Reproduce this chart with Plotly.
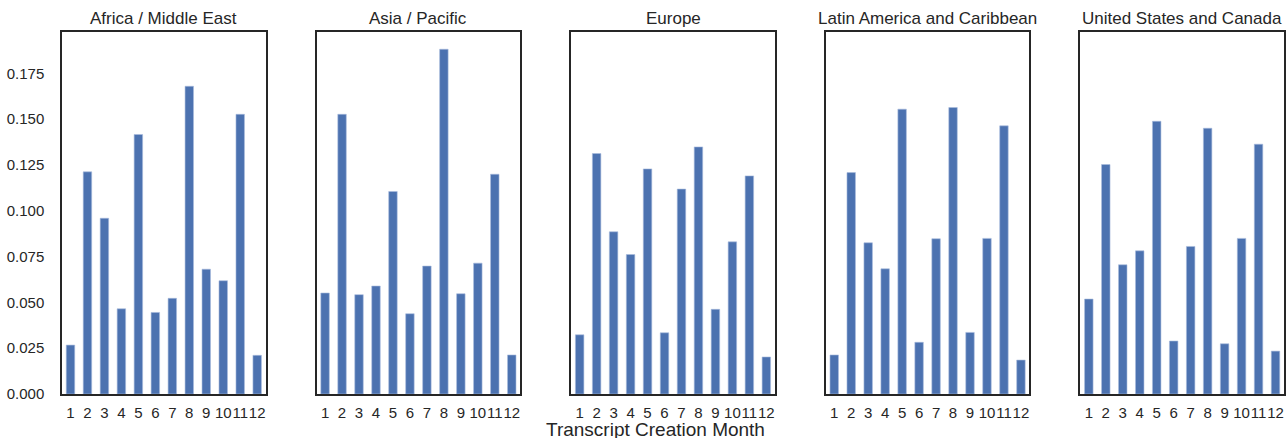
import plotly.graph_objects as go

months = [str(m) for m in range(1, 13)]
regions = ["Africa / Middle East", "Asia / Pacific", "Europe",
           "Latin America and Caribbean", "United States and Canada"]

africa_middle_east = [0.0267, 0.1212, 0.0959, 0.0465, 0.1416, 0.0445,
                      0.0522, 0.1679, 0.0681, 0.0618, 0.1526, 0.0211]
asia_pacific = [0.0551, 0.1526, 0.0542, 0.0589, 0.1105, 0.0438,
                0.0698, 0.1881, 0.0547, 0.0714, 0.1199, 0.0213]
europe = [0.0323, 0.1312, 0.0885, 0.0761, 0.1228, 0.0334,
          0.1118, 0.1348, 0.0462, 0.0830, 0.1190, 0.0202]
latin_america = [0.0213, 0.1208, 0.0825, 0.0683, 0.1554, 0.0282,
                 0.0847, 0.1563, 0.0336, 0.0849, 0.1463, 0.0185]
us_canada = [0.0518, 0.1252, 0.0705, 0.0781, 0.1488, 0.0289,
             0.0805, 0.1450, 0.0274, 0.0849, 0.1363, 0.0234]

series = [africa_middle_east, asia_pacific, europe, latin_america, us_canada]

y_ticks = [0.0, 0.025, 0.05, 0.075, 0.1, 0.125, 0.15, 0.175]
x_label = "Transcript Creation Month"

BLUE = "#4C72B0"
DARK = "#262626"
FONT = "Liberation Sans, Arial, sans-serif"

W, H = 1286, 438
ML, MR, MT, MB = 62, 0, 32, 44
plot_w = W - ML - MR
plot_h = H - MT - MB
panel_w = 204
step = 255

ymax = max(max(s) for s in series) * 1.05

fig = go.Figure()
layout = {}
annotations = []
for i, (name, vals) in enumerate(zip(regions, series)):
    n = "" if i == 0 else str(i + 1)
    fig.add_trace(go.Bar(
        x=months, y=vals, width=0.5,
        marker=dict(color=BLUE, line=dict(width=0.6, color="#A9BCDD")),
        xaxis="x" + n, yaxis="y" + n, showlegend=False,
    ))
    d0 = i * step / plot_w
    d1 = (i * step + panel_w) / plot_w
    layout["xaxis" + n] = dict(
        domain=[d0, d1], anchor="y" + n, type="category",
        categoryorder="array", categoryarray=months,
        tickmode="array", tickvals=months, ticktext=months, tickangle=0,
        range=[-0.5, 11.5], showline=True, mirror=True,
        linecolor=DARK, linewidth=1.5, showgrid=False, zeroline=False,
        ticks="outside", ticklen=4, tickcolor="rgba(0,0,0,0)",
        tickfont=dict(size=15, color=DARK, family=FONT),
    )
    layout["yaxis" + n] = dict(
        domain=[0, 1], anchor="x" + n, range=[0, ymax],
        showline=True, mirror=True, linecolor=DARK, linewidth=1.5,
        showgrid=False, zeroline=False,
        tickvals=y_ticks, tickformat=".3f",
        showticklabels=(i == 0),
        ticks="outside" if i == 0 else "", ticklen=13,
        tickcolor="rgba(0,0,0,0)",
        tickfont=dict(size=15, color=DARK, family=FONT),
    )
    annotations.append(dict(
        text=name, x=(d0 + d1) / 2, y=1, xref="paper", yref="paper",
        xanchor="center", yanchor="middle", yshift=14, showarrow=False,
        font=dict(size=17, color=DARK, family=FONT),
    ))

annotations.append(dict(
    text=x_label, x=(656 - ML) / plot_w, y=-(429 - (H - MB)) / plot_h,
    xref="paper", yref="paper", xanchor="center", yanchor="middle",
    showarrow=False, font=dict(size=19, color=DARK, family=FONT),
))

fig.update_layout(
    width=W, height=H,
    margin=dict(l=ML, r=MR, t=MT, b=MB, pad=0),
    paper_bgcolor="white", plot_bgcolor="white",
    font=dict(family=FONT, color=DARK),
    annotations=annotations,
    **layout,
)

fig.write_html(
    "out.html",
    config={"displayModeBar": False},
    post_script="document.body.style.margin='0';document.body.style.overflow='hidden';",
)
